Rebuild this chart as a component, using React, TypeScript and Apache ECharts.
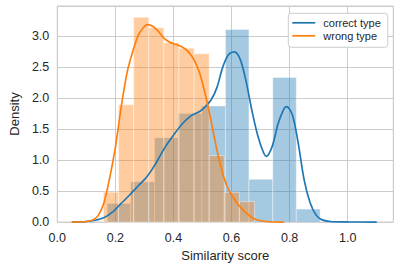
import React, { useEffect, useRef } from "react";
import * as echarts from "echarts";

// Histogram bin edges and densities
const correctEdges = [0.172, 0.253, 0.335, 0.416, 0.498, 0.579, 0.66, 0.742, 0.823, 0.905];
const correctHeights = [0.3, 0.65, 1.36, 1.75, 1.87, 3.1, 0.69, 2.33, 0.21];

const wrongEdges = [0.159, 0.211, 0.263, 0.315, 0.367, 0.419, 0.471, 0.523, 0.575, 0.627, 0.679];
const wrongHeights = [0.48, 1.89, 3.3, 3.13, 2.89, 2.8, 2.71, 1.07, 0.48, 0.33];

// KDE curves
const correctKdeX = [0.05, 0.1, 0.13, 0.16, 0.19, 0.22, 0.25, 0.28, 0.31, 0.34, 0.37, 0.4, 0.43, 0.46, 0.49, 0.51, 0.53, 0.55, 0.57, 0.59, 0.61, 0.63, 0.65, 0.67, 0.69, 0.71, 0.72, 0.74, 0.76, 0.78, 0.79, 0.81, 0.83, 0.85, 0.87, 0.89, 0.91, 0.94, 1.0, 1.1];
const correctKdeY = [0.0, 0.01, 0.03, 0.07, 0.16, 0.3, 0.44, 0.59, 0.74, 0.95, 1.2, 1.4, 1.58, 1.71, 1.78, 1.86, 1.97, 2.17, 2.5, 2.7, 2.74, 2.62, 2.27, 1.8, 1.4, 1.12, 1.06, 1.22, 1.58, 1.82, 1.86, 1.72, 1.26, 0.68, 0.32, 0.12, 0.04, 0.01, 0.003, 0.0];

const wrongKdeX = [0.05, 0.1, 0.12, 0.14, 0.16, 0.18, 0.2, 0.22, 0.24, 0.26, 0.28, 0.3, 0.31, 0.33, 0.35, 0.37, 0.39, 0.41, 0.43, 0.45, 0.47, 0.49, 0.51, 0.53, 0.55, 0.57, 0.59, 0.62, 0.65, 0.68, 0.72, 0.78];
const wrongKdeY = [0.0, 0.01, 0.03, 0.1, 0.3, 0.7, 1.2, 1.85, 2.4, 2.75, 3.02, 3.15, 3.18, 3.15, 3.06, 2.95, 2.89, 2.86, 2.82, 2.75, 2.62, 2.4, 2.05, 1.62, 1.15, 0.78, 0.52, 0.3, 0.15, 0.05, 0.01, 0.0];

const xTickLabels = [0, 0.2, 0.4, 0.6, 0.8, 1.0];
const yTickLabels = [0, 0.5, 1.0, 1.5, 2.0, 2.5, 3.0];

const BLUE = "#1f77b4";
const ORANGE = "#ff7f0e";
const FONT = "Liberation Sans, Arial, sans-serif";
const TEXT = "#262626";
const GRID = "#cccccc";

function histData(edges: number[], heights: number[]) {
  return heights.map((h, i) => [edges[i], edges[i + 1], h]);
}

function histRender(color: string) {
  return (params: any, api: any) => {
    const x0 = api.value(0);
    const x1 = api.value(1);
    const h = api.value(2);
    const p0 = api.coord([x0, h]);
    const p1 = api.coord([x1, 0]);
    return {
      type: "rect",
      shape: { x: p0[0], y: p0[1], width: p1[0] - p0[0], height: p1[1] - p0[1] },
      style: { fill: color, stroke: "#ffffff", lineWidth: 1, opacity: 0.4 },
    };
  };
}

function near(v: number, list: number[]) {
  return list.some((t) => Math.abs(t - v) < 1e-6);
}

export default function App() {
  const ref = useRef<HTMLDivElement>(null);
  useEffect(() => {
    if (!ref.current) return;
    const chart = echarts.init(ref.current, undefined, { renderer: "svg" });
    chart.setOption({
      animation: false,
      backgroundColor: "#ffffff",
      grid: {
        left: 50.8,
        right: 22.7,
        top: 6,
        bottom: 37.7,
        show: true,
        borderColor: GRID,
        borderWidth: 1,
        backgroundColor: "transparent",
      },
      legend: {
        data: ["correct type", "wrong type"],
        orient: "vertical",
        left: 288.3,
        top: 13.3,
        padding: [4, 7, 6, 4],
        icon: "rect",
        itemWidth: 23,
        itemHeight: 1.7,
        itemGap: 2,
        backgroundColor: "#ffffff",
        borderColor: GRID,
        borderWidth: 1,
        borderRadius: 3,
        textStyle: { fontFamily: FONT, fontSize: 11, color: TEXT, padding: [0, 0, 0, 3] },
      },
      xAxis: {
        type: "value",
        min: 0,
        max: 1.157,
        interval: 0.2,
        name: "Similarity score",
        nameLocation: "middle",
        nameGap: 25,
        nameTextStyle: { fontFamily: FONT, fontSize: 13, color: TEXT },
        axisLine: { show: false },
        axisTick: { show: false },
        axisLabel: {
          margin: 9,
          fontFamily: FONT,
          fontSize: 12.5,
          color: TEXT,
          formatter: (v: number) => (near(v, xTickLabels) ? v.toFixed(1) : ""),
        },
        splitLine: { show: true, lineStyle: { color: GRID, width: 1 } },
      },
      yAxis: {
        type: "value",
        min: 0,
        max: 3.48,
        interval: 0.5,
        name: "Density",
        nameLocation: "middle",
        nameGap: 31,
        nameTextStyle: { fontFamily: FONT, fontSize: 13, color: TEXT },
        axisLine: { show: false },
        axisTick: { show: false },
        axisLabel: {
          margin: 8,
          fontFamily: FONT,
          fontSize: 12.5,
          color: TEXT,
          formatter: (v: number) => (near(v, yTickLabels) ? v.toFixed(1) : ""),
        },
        splitLine: { show: true, lineStyle: { color: GRID, width: 1 } },
      },
      series: [
        {
          name: "correct hist",
          type: "custom",
          renderItem: histRender(BLUE),
          data: histData(correctEdges, correctHeights),
          encode: { x: [0, 1], y: 2 },
          silent: true,
        },
        {
          name: "wrong hist",
          type: "custom",
          renderItem: histRender(ORANGE),
          data: histData(wrongEdges, wrongHeights),
          encode: { x: [0, 1], y: 2 },
          silent: true,
        },
        {
          name: "correct type",
          type: "line",
          data: correctKdeX.map((x, i) => [x, correctKdeY[i]]),
          smooth: 0.3,
          symbol: "none",
          showSymbol: false,
          itemStyle: { color: BLUE },
          lineStyle: { color: BLUE, width: 1.7 },
          z: 3,
        },
        {
          name: "wrong type",
          type: "line",
          data: wrongKdeX.map((x, i) => [x, wrongKdeY[i]]),
          smooth: 0.3,
          symbol: "none",
          showSymbol: false,
          itemStyle: { color: ORANGE },
          lineStyle: { color: ORANGE, width: 1.7 },
          z: 3,
        },
      ],
    });
    return () => chart.dispose();
  }, []);
  return (
    <div
      ref={ref}
      style={{ position: "fixed", left: 0, top: 0, width: 416, height: 267 }}
    />
  );
}
